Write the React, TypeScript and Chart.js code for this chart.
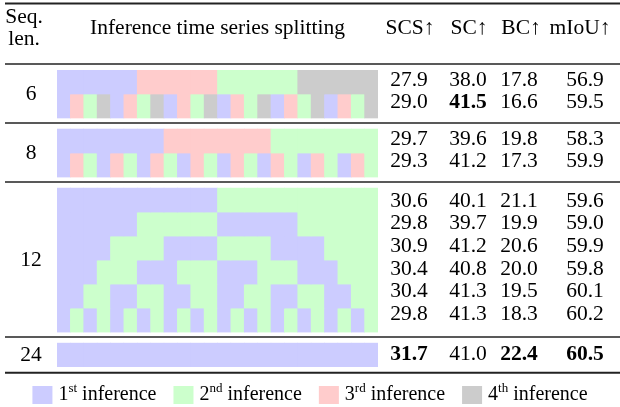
import React, { useEffect, useRef } from 'react';
import { Chart, registerables } from 'chart.js';

Chart.register(...registerables);

// ---- data ----
const frameLabels = ['1','2','3','4','5','6','7','8','9','10','11','12','13','14','15','16','17','18','19','20','21','22','23','24'];

const inferenceColors = ['#ccccff', '#ccffcc', '#ffcccc', '#cccccc'];
const inferenceNumbers = ['1', '2', '3', '4'];
const inferenceSuffixes = ['st', 'nd', 'rd', 'th'];

const seqLengths = ['6', '8', '12', '24'];

// inference index used for each of the 24 frames (0 = 1st, 1 = 2nd, 2 = 3rd, 3 = 4th)
const split6 = [
  [0,0,0,0,0,0, 2,2,2,2,2,2, 1,1,1,1,1,1, 3,3,3,3,3,3],
  [0,2,1,3, 0,2,1,3, 0,2,1,3, 0,2,1,3, 0,2,1,3, 0,2,1,3],
];
const split8 = [
  [0,0,0,0,0,0,0,0, 2,2,2,2,2,2,2,2, 1,1,1,1,1,1,1,1],
  [0,2,1, 0,2,1, 0,2,1, 0,2,1, 0,2,1, 0,2,1, 0,2,1, 0,2,1],
];
const split12 = [
  [0,0,0,0,0,0,0,0,0,0,0,0, 1,1,1,1,1,1,1,1,1,1,1,1],
  [0,0,0,0,0,0, 1,1,1,1,1,1, 0,0,0,0,0,0, 1,1,1,1,1,1],
  [0,0,0,0, 1,1,1,1, 0,0,0,0, 1,1,1,1, 0,0,0,0, 1,1,1,1],
  [0,0,0, 1,1,1, 0,0,0, 1,1,1, 0,0,0, 1,1,1, 0,0,0, 1,1,1],
  [0,0, 1,1, 0,0, 1,1, 0,0, 1,1, 0,0, 1,1, 0,0, 1,1, 0,0, 1,1],
  [0,1, 0,1, 0,1, 0,1, 0,1, 0,1, 0,1, 0,1, 0,1, 0,1, 0,1, 0,1],
];
const split24 = [
  [0,0,0,0,0,0,0,0,0,0,0,0,0,0,0,0,0,0,0,0,0,0,0,0],
];

const scs  = [27.9, 29.0, 29.7, 29.3, 30.6, 29.8, 30.9, 30.4, 30.4, 29.8, 31.7];
const sc   = [38.0, 41.5, 39.6, 41.2, 40.1, 39.7, 41.2, 40.8, 41.3, 41.3, 41.0];
const bc   = [17.8, 16.6, 19.8, 17.3, 21.1, 19.9, 20.6, 20.0, 19.5, 18.3, 22.4];
const miou = [56.9, 59.5, 58.3, 59.9, 59.6, 59.0, 59.9, 59.8, 60.1, 60.2, 60.5];

const metricHeaders = ['SCS\u2191', 'SC\u2191', 'BC\u2191', 'mIoU\u2191'];

// ---- layout constants ----
const W = 620;
const H = 407;
const ROW_PX = 24;
const GAP = 0.46; // gap between groups in row units
const GRID_TOP = 70;
const FONT = "'Liberation Serif', 'Times New Roman', Times, serif";
const metricX = [409, 468, 519, 585];
const metricHeaderX = [410, 469, 521, 580];

const groups = [split6, split8, split12, split24];

export default function App() {
  const ref = useRef<HTMLCanvasElement | null>(null);

  useEffect(() => {
    if (!ref.current) return;

    // build row positions
    const groupInfo: { start: number; end: number; rows: number }[] = [];
    const datasets: any[] = [];
    let pos = 0;
    groups.forEach((g, gi) => {
      if (gi > 0) pos += GAP;
      const start = pos;
      g.forEach((row) => {
        const top = pos;
        datasets.push({
          data: row.map(() => [top, top + 1]),
          backgroundColor: row.map((v) => inferenceColors[v]),
          borderWidth: 0,
          grouped: false,
          barPercentage: 1,
          categoryPercentage: 1,
        });
        pos += 1;
      });
      groupInfo.push({ start, end: pos, rows: g.length });
    });
    const total = pos;

    const metrics = [scs, sc, bc, miou];
    const maxes = metrics.map((m) => Math.max(...m));

    const tablePlugin = {
      id: 'tableText',
      afterDraw(chart: any) {
        const ctx = chart.ctx as CanvasRenderingContext2D;
        const ys = chart.scales.y;
        const area = chart.chartArea;
        ctx.save();
        ctx.fillStyle = '#000';
        ctx.textAlign = 'center';
        ctx.textBaseline = 'middle';

        // header
        const hy = 28.5;
        ctx.font = `21.5px ${FONT}`;
        ctx.fillText('Seq.', 24, hy - 11.3);
        ctx.fillText('len.', 24, hy + 11.3);
        ctx.fillText('Inference time series splitting', (area.left + area.right) / 2, hy);
        metricHeaders.forEach((t, i) => ctx.fillText(t, metricHeaderX[i], hy));

        // rules
        ctx.strokeStyle = '#222';
        const hline = (y: number, w: number) => {
          ctx.lineWidth = w;
          ctx.beginPath();
          ctx.moveTo(5, y);
          ctx.lineTo(W, y);
          ctx.stroke();
        };
        hline(3.5, 2);
        const gapPx = GAP * ROW_PX;
        hline(ys.getPixelForValue(groupInfo[0].start) - gapPx / 2 - 0.5, 1.5);
        for (let i = 1; i < groupInfo.length; i++) {
          const a = ys.getPixelForValue(groupInfo[i - 1].end);
          const b = ys.getPixelForValue(groupInfo[i].start);
          hline((a + b) / 2 - 0.5, 1.5);
        }
        hline(ys.getPixelForValue(groupInfo[groupInfo.length - 1].end) + gapPx / 2, 2);

        // body
        let rowIdx = 0;
        groupInfo.forEach((g, gi) => {
          const c = (ys.getPixelForValue(g.start) + ys.getPixelForValue(g.end)) / 2;
          ctx.font = `21.5px ${FONT}`;
          ctx.fillText(seqLengths[gi], 31, c);
          for (let r = 0; r < g.rows; r++) {
            const ty = g.rows > 1 ? c + (r - (g.rows - 1) / 2) * 22.6 - 2.5 : c - 1;
            metrics.forEach((m, mi) => {
              const v = m[rowIdx];
              ctx.font = `${v === maxes[mi] ? 'bold ' : ''}21.5px ${FONT}`;
              ctx.fillText(v.toFixed(1), metricX[mi], ty);
            });
            rowIdx++;
          }
        });

        // legend
        const ly = 395;
        const boxW = 20;
        const boxH = 18;
        const big = `20px ${FONT}`;
        const small = `13px ${FONT}`;
        const items = inferenceNumbers.map((n, i) => {
          ctx.font = big;
          const wn = ctx.measureText(n).width;
          const wr = ctx.measureText(' inference').width;
          ctx.font = small;
          const ws = ctx.measureText(inferenceSuffixes[i]).width;
          return { n, s: inferenceSuffixes[i], wn, ws, wr, w: boxW + 6 + wn + ws + wr };
        });
        const spacing = 17;
        const totalW = items.reduce((s, it) => s + it.w, 0) + spacing * (items.length - 1);
        let lx = (W - totalW) / 2;
        ctx.textAlign = 'left';
        items.forEach((it, i) => {
          ctx.fillStyle = inferenceColors[i];
          ctx.fillRect(lx, ly - boxH / 2, boxW, boxH);
          ctx.fillStyle = '#000';
          let tx = lx + boxW + 6;
          ctx.font = big;
          ctx.fillText(it.n, tx, ly);
          tx += it.wn;
          ctx.font = small;
          ctx.fillText(it.s, tx, ly - 6);
          tx += it.ws;
          ctx.font = big;
          ctx.fillText(' inference', tx, ly);
          lx += it.w + spacing;
        });
        ctx.restore();
      },
    };

    const chart = new Chart(ref.current, {
      type: 'bar',
      data: { labels: frameLabels, datasets },
      options: {
        responsive: false,
        animation: false,
        devicePixelRatio: 1,
        events: [],
        layout: {
          padding: {
            left: 57,
            right: W - 378,
            top: GRID_TOP,
            bottom: H - GRID_TOP - total * ROW_PX,
          },
        },
        scales: {
          x: { display: false, offset: true },
          y: { display: false, reverse: true, min: 0, max: total },
        },
        plugins: {
          legend: { display: false },
          tooltip: { enabled: false },
        },
      } as any,
      plugins: [tablePlugin],
    });

    return () => chart.destroy();
  }, []);

  return (
    <div style={{ position: 'absolute', left: 0, top: 0, width: W, height: H, background: '#fff' }}>
      <canvas ref={ref} width={W} height={H} style={{ display: 'block' }} />
    </div>
  );
}
